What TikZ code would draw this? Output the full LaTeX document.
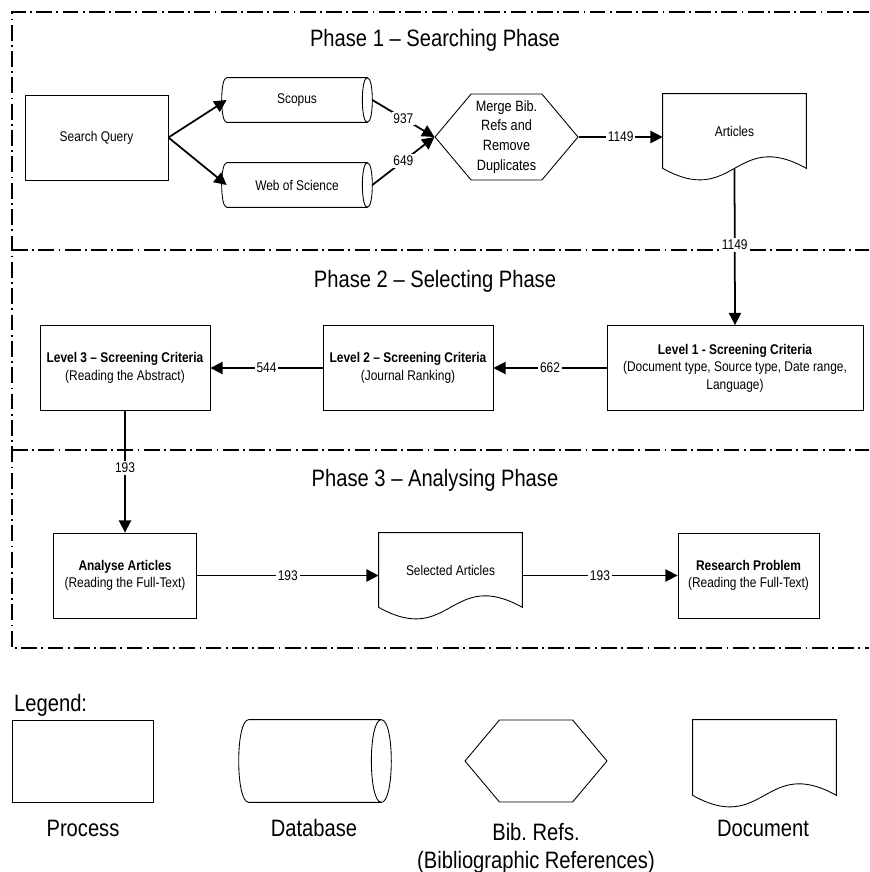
\documentclass[tikz,border=0pt]{standalone}
\usepackage{fontspec}
\setmainfont{Liberation Sans}[FakeStretch=0.85]
\usetikzlibrary{shapes.symbols,arrows.meta}

\tikzset{
  process/.style={draw, rectangle, line width=0.5pt, align=center,
    minimum height=1.7cm, font=\fontsize{8}{10}\selectfont},
  database/.style={rectangle, minimum width=2.8cm, minimum height=0.88cm,
    font=\fontsize{8}{10}\selectfont},
  bibrefs/.style={draw, signal, signal to=west and east, signal pointer angle=100,
    line width=0.5pt, align=center, minimum width=2.86cm, minimum height=1.72cm,
    inner sep=0pt, font=\fontsize{8.5}{11.3}\selectfont},
  docshape/.style={rectangle, minimum width=2.86cm, minimum height=1.48cm,
    font=\fontsize{8}{10}\selectfont},
  outline/.style={line width=0.5pt},
  flow/.style={-{Triangle[length=7pt,width=7pt]}, line width=1pt},
  countlabel/.style={fill=white, inner sep=1pt, font=\fontsize{8}{10}\selectfont},
  phase/.style={font=\fontsize{13.5}{16}\selectfont},
  phaseline/.style={line width=0.6pt, dash pattern=on 9pt off 2.5pt on 1pt off 2.5pt}
}

\begin{document}
\frenchspacing
\begin{tikzpicture}[x=0.02cm, y=-0.02cm]
  \useasboundingbox (0,0) rectangle (869,872);

  % phase frame
  \draw[phaseline] (869,12) -- (12,12) -- (12,648) -- (869,648);
  \draw[phaseline] (12,250) -- (869,250);
  \draw[phaseline] (12,450) -- (869,450);

  \node[phase] (title1) at (435,40) {Phase 1 – Searching Phase};
  \node[phase] (title2) at (435,281) {Phase 2 – Selecting Phase};
  \node[phase] (title3) at (435,480) {Phase 3 – Analysing Phase};

  % phase 1
  \node[process, minimum width=2.86cm] (query) at (96.5,137.5) {Search Query};
  \node[database] (scopus) at (297,100) {Scopus};
  \node[database] (wos) at (297,185) {Web of Science};
  \node[bibrefs] (merge) at (506.5,137) {Merge Bib.\\Refs and\\Remove\\Duplicates};
  \node[docshape] (articles) at (734.5,131) {Articles};

  % phase 2
  \node[process, minimum width=5.12cm] (level1) at (735,368)
    {\textbf{Level 1 - Screening Criteria}\\(Document type, Source type, Date range,\\Language)};
  \node[process, minimum width=3.4cm] (level2) at (408,368)
    {\textbf{Level 2 – Screening Criteria}\\(Journal Ranking)};
  \node[process, minimum width=3.4cm] (level3) at (125,368)
    {\textbf{Level 3 – Screening Criteria}\\(Reading the Abstract)};

  % phase 3
  \node[process, minimum width=2.86cm] (analyse) at (125,575.5)
    {\textbf{Analyse Articles}\\(Reading the Full-Text)};
  \node[docshape] (selected) at (450.5,570) {Selected Articles};
  \node[process, minimum width=2.82cm] (problem) at (748.5,575.5)
    {\textbf{Research Problem}\\(Reading the Full-Text)};

  % legend
  \node[phase, anchor=west] (legend) at (8,705) {Legend:};
  \node[process, minimum width=2.82cm, minimum height=1.64cm] (keyprocess) at (82.5,761) {};
  \node[database, minimum width=2.64cm, minimum height=1.64cm] (keydatabase) at (315,761) {};
  \node[bibrefs, minimum height=1.64cm, minimum width=2.84cm] (keybibrefs) at (536,761) {};
  \node[docshape, minimum width=2.86cm, minimum height=1.5cm] (keydocument) at (764.5,757.5) {};
  \node[phase] (labprocess) at (83,828) {Process};
  \node[phase] (labdatabase) at (314,828) {Database};
  \node[phase, align=center] (labbibrefs) at (536,848) {Bib. Refs.\\(Bibliographic References)};
  \node[phase] (labdocument) at (763,828) {Document};

  % database and document outlines
  \foreach \n/\r in {scopus/0.1cm, wos/0.1cm, keydatabase/0.2cm}
    \draw[outline] (\n.north west) -- (\n.north east)
      .. controls +(1.33*\r,0) and +(1.33*\r,0) .. (\n.south east)
      .. controls +(-1.33*\r,0) and +(-1.33*\r,0) .. (\n.north east)
      (\n.south east) -- (\n.south west)
      .. controls +(-1.33*\r,0) and +(-1.33*\r,0) .. (\n.north west);
  \foreach \n in {articles, selected, keydocument}
    \draw[outline] (\n.south west) -- (\n.north west) -- (\n.north east) -- (\n.south east)
      .. controls +(-1.43cm,0.8cm) and +(1.43cm,-0.8cm) .. (\n.south west);

  % connectors
  \draw[flow] (query.east) -- (scopus.west);
  \draw[flow] (query.east) -- (wos.west);
  \draw[flow] ([xshift=1mm]scopus.east) -- node[countlabel] {937} (merge.west);
  \draw[flow] ([xshift=1mm]wos.east) -- node[countlabel] {649} (merge.west);
  \draw[flow] (merge.east) -- node[countlabel] {1149} (merge.east -| articles.west);
  \draw[flow] (articles.south) -- node[countlabel, pos=0.49] {1149} (level1.north);
  \draw[flow] (level1.west) -- node[countlabel] {662} (level2.east);
  \draw[flow] (level2.west) -- node[countlabel] {544} (level3.east);
  \draw[flow] (level3.south) -- node[countlabel, pos=0.47] {193} (analyse.north);
  \draw[flow] (analyse.east) -- node[countlabel] {193} (analyse.east -| selected.west);
  \draw[flow] (problem.west -| selected.east) -- node[countlabel] {193} (problem.west);
\end{tikzpicture}
\end{document}
